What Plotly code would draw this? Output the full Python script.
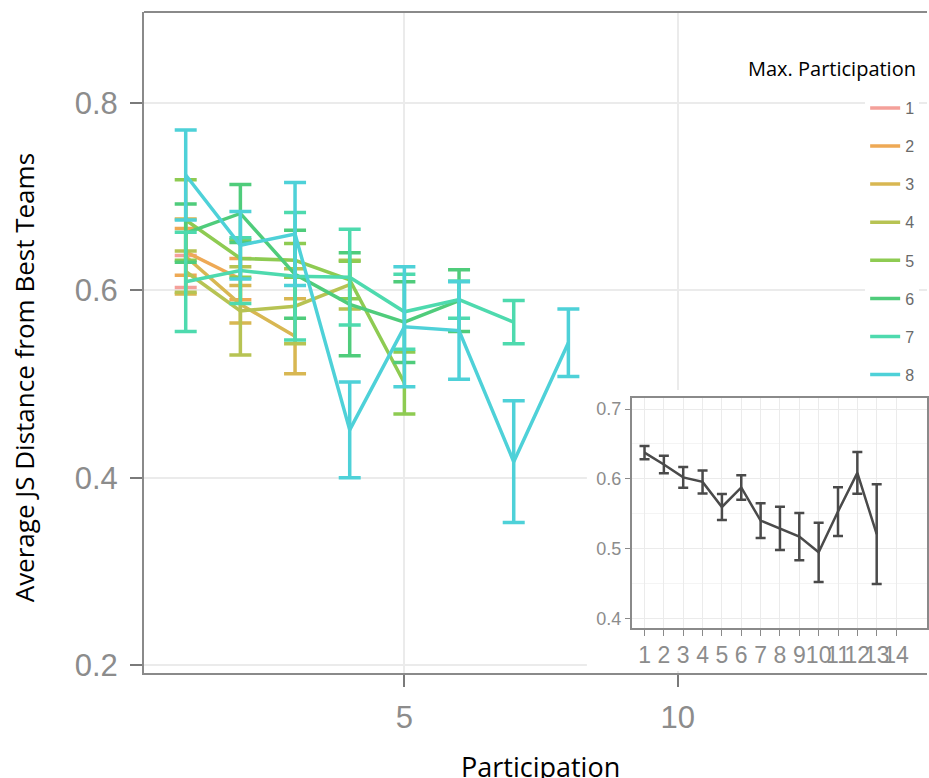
import plotly.graph_objects as go

# ---------------- data ----------------
series_names = ["1", "2", "3", "4", "5", "6", "7", "8"]
series_colors = ["#F4A09A", "#EEA955", "#D8B752", "#B7C353",
                 "#8ECB52", "#4FCC7B", "#4EDAAE", "#4ED1D8"]

s1_mean = [0.620]
s1_err = [0.017]
s2_mean = [0.641, 0.612]
s2_err = [0.025, 0.022]
s3_mean = [0.636, 0.585, 0.551]
s3_err = [0.040, 0.020, 0.040]
s4_mean = [0.620, 0.578, 0.583, 0.606]
s4_err = [0.022, 0.047, 0.040, 0.026]
s5_mean = [0.675, 0.634, 0.632, 0.611, 0.501]
s5_err = [0.043, 0.020, 0.018, 0.020, 0.033]
s6_mean = [0.661, 0.682, 0.617, 0.585, 0.566, 0.589]
s6_err = [0.031, 0.031, 0.047, 0.055, 0.043, 0.033]
s7_mean = [0.609, 0.621, 0.615, 0.614, 0.577, 0.590, 0.566]
s7_err = [0.053, 0.035, 0.068, 0.051, 0.040, 0.020, 0.023]
s8_mean = [0.723, 0.648, 0.660, 0.451, 0.561, 0.557, 0.417, 0.544]
s8_err = [0.048, 0.036, 0.055, 0.051, 0.064, 0.052, 0.065, 0.036]

main_xticks = [5, 10]
main_yticks = [0.2, 0.4, 0.6, 0.8]

inset_x = [1, 2, 3, 4, 5, 6, 7, 8, 9, 10, 11, 12, 13]
inset_mean = [0.6375, 0.6205, 0.602, 0.5955, 0.5595, 0.5875, 0.540,
              0.529, 0.517, 0.4945, 0.553, 0.6085, 0.5205]
inset_err = [0.0095, 0.0125, 0.015, 0.0165, 0.0185, 0.0175, 0.025,
             0.031, 0.034, 0.0425, 0.035, 0.030, 0.0715]
inset_xticks = list(range(1, 15))
inset_yticks = [0.4, 0.5, 0.6, 0.7]

means = [s1_mean, s2_mean, s3_mean, s4_mean, s5_mean, s6_mean, s7_mean, s8_mean]
errs = [s1_err, s2_err, s3_err, s4_err, s5_err, s6_err, s7_err, s8_err]

# ---------------- figure ----------------
W, H = 929, 778
ML, MR, MT, MB = 144, 0, 12, 105
PW, PH = W - ML - MR, H - MT - MB


def px_x(p):
    return (p - ML) / PW


def px_y(p):
    return (H - MB - p) / PH


fig = go.Figure()

for name, col, m, e in zip(series_names, series_colors, means, errs):
    xs = list(range(1, len(m) + 1))
    fig.add_trace(go.Scatter(
        x=xs, y=m, mode="lines", name=name, legendgroup=name,
        line=dict(color=col, width=3.5),
        error_y=dict(type="data", array=e, visible=True, color=col,
                     thickness=3.5, width=11),
        xaxis="x", yaxis="y",
    ))

# empty helper subplot: its white background masks the main grid behind the inset
fig.add_trace(go.Scatter(x=[], y=[], showlegend=False, hoverinfo="skip",
                         xaxis="x2", yaxis="y2"))

fig.add_trace(go.Scatter(
    x=inset_x, y=inset_mean, mode="lines", showlegend=False,
    line=dict(color="#4a4a4a", width=2.5),
    error_y=dict(type="data", array=inset_err, visible=True, color="#4a4a4a",
                 thickness=2.5, width=5),
    xaxis="x3", yaxis="y3",
))

tick_font = dict(family="Liberation Sans, Arial, sans-serif", size=31, color="#8c8c8c")

fig.update_layout(
    width=W, height=H,
    margin=dict(l=ML, r=MR, t=MT, b=MB),
    paper_bgcolor="white", plot_bgcolor="white",
    xaxis=dict(
        domain=[0, 1], range=[0.237, 14.56],
        tickvals=main_xticks, ticktext=[str(v) for v in main_xticks],
        tickfont=tick_font, ticks="outside", ticklen=12, tickwidth=2,
        tickcolor="#7a7a7a", ticklabelstandoff=4,
        showgrid=True, gridcolor="#ebebeb", gridwidth=2,
        showline=True, linecolor="#8a8a8a", linewidth=2,
        zeroline=False, fixedrange=True,
    ),
    yaxis=dict(
        domain=[0, 1], range=[0.1915, 0.897],
        tickvals=main_yticks, ticktext=["0.2", "0.4", "0.6", "0.8"],
        tickfont=tick_font, ticks="outside", ticklen=12, tickwidth=2,
        tickcolor="#7a7a7a", ticklabelstandoff=6,
        showgrid=True, gridcolor="#ebebeb", gridwidth=2,
        showline=True, linecolor="#8a8a8a", linewidth=2,
        zeroline=False, fixedrange=True,
    ),
    xaxis2=dict(domain=[px_x(588), 1.0], anchor="y2", visible=False,
                showgrid=False, fixedrange=True),
    yaxis2=dict(domain=[px_y(671), px_y(390)], anchor="x2", visible=False,
                showgrid=False, fixedrange=True),
    xaxis3=dict(
        domain=[px_x(633), 1.0], anchor="y3", range=[0.34, 15.6],
        tickvals=inset_xticks, ticktext=[str(v) for v in inset_xticks],
        tickfont=dict(family="Liberation Sans Narrow, Arial Narrow, Liberation Sans, sans-serif",
                      size=23, color="#8c8c8c"),
        ticks="outside", ticklen=6, tickwidth=1, tickcolor="#8a8a8a",
        showgrid=True, gridcolor="#ebebeb", gridwidth=1,
        showline=True, linecolor="#8a8a8a", linewidth=1.5, mirror=True,
        zeroline=False, fixedrange=True, tickangle=0,
    ),
    yaxis3=dict(
        domain=[px_y(628), px_y(398)], anchor="x3", range=[0.386, 0.7158],
        tickvals=inset_yticks, ticktext=["0.4", "0.5", "0.6", "0.7"],
        tickfont=dict(family="Liberation Sans, Arial, sans-serif", size=18, color="#8c8c8c"),
        ticks="outside", ticklen=5, tickwidth=1, tickcolor="#8a8a8a",
        showgrid=True, gridcolor="#ebebeb", gridwidth=1,
        minor=dict(dtick=0.05, showgrid=True, gridcolor="#f4f4f4", gridwidth=1),
        showline=True, linecolor="#8a8a8a", linewidth=1.5, mirror=True,
        zeroline=False, fixedrange=True,
    ),
    showlegend=True,
    legend=dict(
        x=px_x(867), y=px_y(91), xanchor="left", yanchor="top",
        bgcolor="white", borderwidth=0,
        font=dict(family="Liberation Sans, Arial, sans-serif", size=16, color="#6a6a6a"),
        tracegroupgap=14.3, itemwidth=30,
    ),
    shapes=[
        dict(type="line", xref="paper", yref="paper", x0=0, x1=1, y0=1, y1=1,
             line=dict(color="#8a8a8a", width=2), layer="above"),
    ],
    annotations=[
        dict(text="Average JS Distance from Best Teams", xref="paper", yref="paper",
             x=px_x(24), y=px_y(378), textangle=-90, showarrow=False,
             xanchor="center", yanchor="middle",
             font=dict(family="Open Sans, sans-serif", size=26, color="black")),
        dict(text="Participation", xref="paper", yref="paper",
             x=px_x(542), y=px_y(766), showarrow=False,
             xanchor="center", yanchor="middle",
             font=dict(family="Open Sans, sans-serif", size=27, color="black")),
        dict(text="Max. Participation", xref="paper", yref="paper",
             x=px_x(834), y=px_y(68), showarrow=False,
             xanchor="center", yanchor="middle",
             font=dict(family="Open Sans, sans-serif", size=20, color="black")),
    ],
)

fig.write_html("out.html", config={"displayModeBar": False},
               post_script="document.body.style.margin='0';document.body.style.overflow='hidden';")
